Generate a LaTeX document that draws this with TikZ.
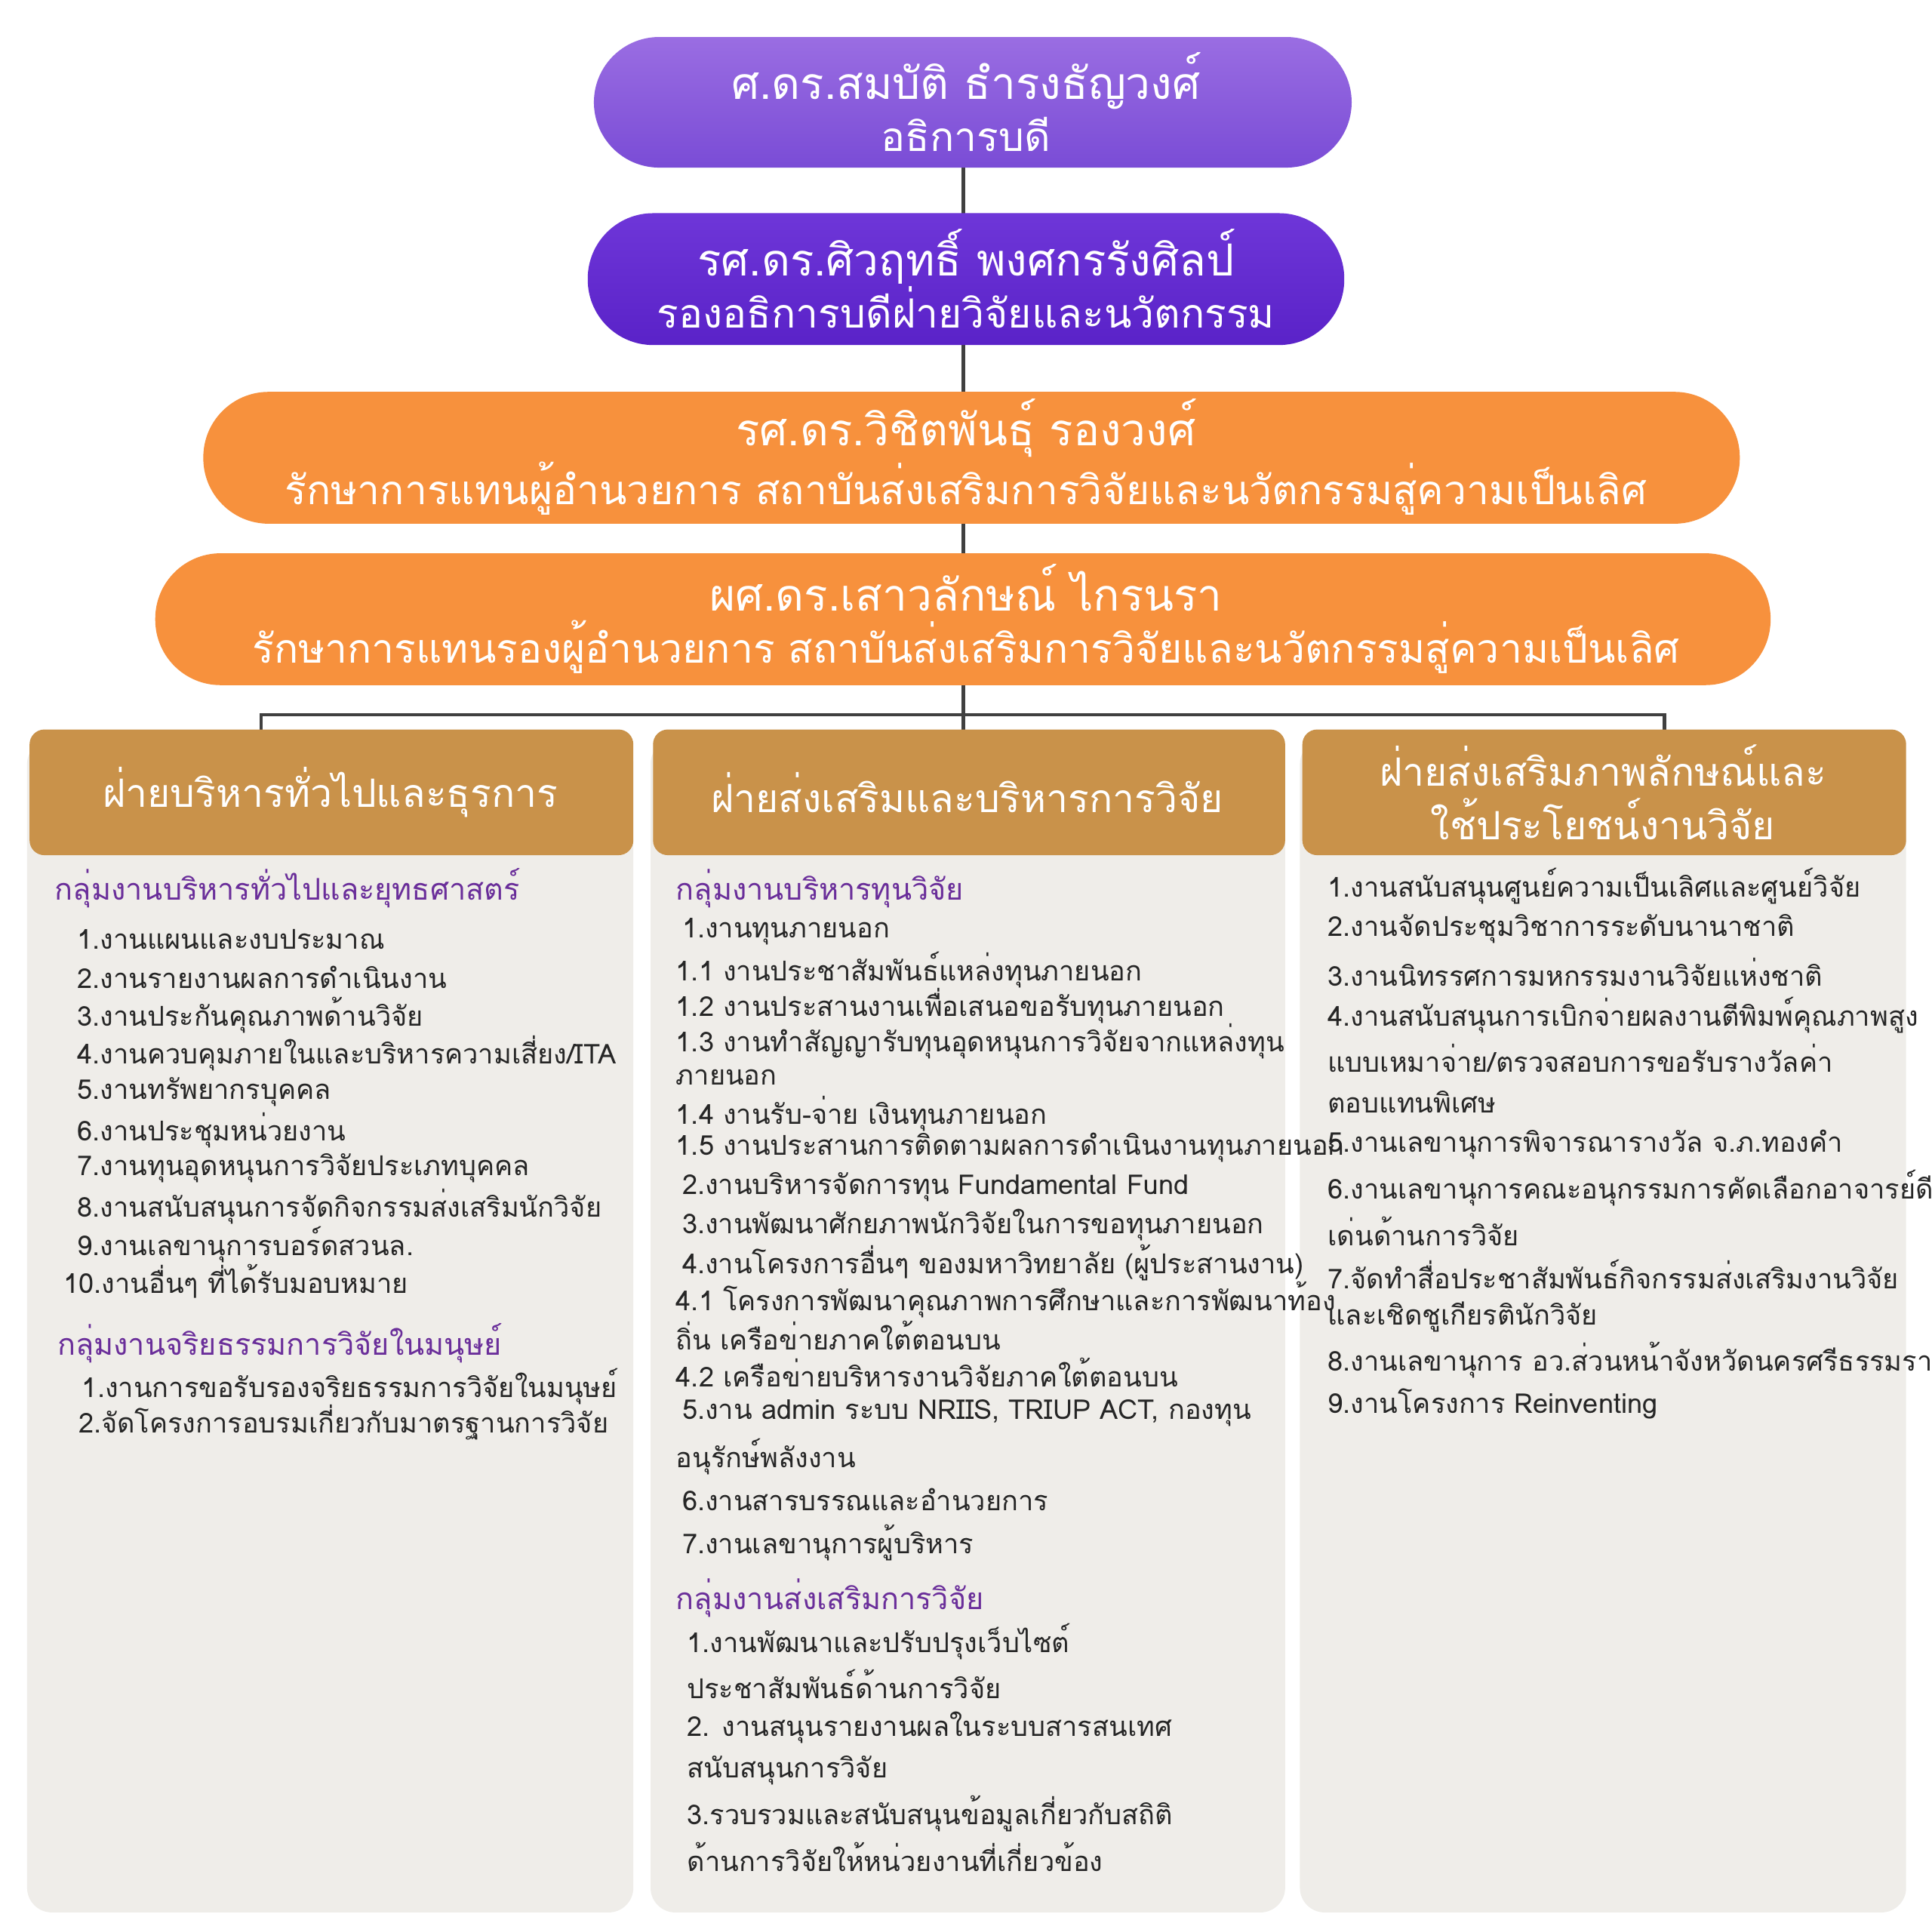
\documentclass[tikz,border=0pt]{standalone}
\usepackage{fontspec}
\IfFontExistsTF{Loma}{\setmainfont{Loma}}{%
 \IfFontExistsTF{Garuda}{\setmainfont{Garuda}}{%
  \IfFontExistsTF{Norasi}{\setmainfont{Norasi}}{\setmainfont{Noto Sans}}}}
\newcommand{\pl}[2]{{\fontsize{10.2}{12.5}\selectfont #1}\\{\fontsize{9.3}{12.5}\selectfont #2}}
\begin{document}
\begin{tikzpicture}[x=0.01cm,y=-0.01cm,
  pill/.style={text=white,align=center,inner sep=0},
  it/.style={anchor=west,inner sep=0,font=\fontsize{6.3}{8}\selectfont,text=black!85},
  gh/.style={anchor=west,inner sep=0,font=\fontsize{6.9}{9}\selectfont,text=grpurple},
  ht/.style={text=white,font=\fontsize{9}{12.5}\selectfont,align=center},
  conn/.style={draw=black!75,line width=0.8pt}]
\definecolor{panelgray}{HTML}{EFEDE9}
\definecolor{tan}{HTML}{C9924A}
\definecolor{grpurple}{HTML}{6A2E9A}
\definecolor{pA}{HTML}{9A6DE2}
\definecolor{pB}{HTML}{7A4CD6}
\definecolor{pC}{HTML}{6E36D8}
\definecolor{pD}{HTML}{5A22C8}
\definecolor{org}{HTML}{F7913D}
\useasboundingbox (0,0) rectangle (1568,1553);
\fill[white] (0,0) rectangle (1568,1553);
% connectors
\coordinate (c1) at (782,580); \coordinate (cl) at (212,580); \coordinate (cr) at (1351,580);
\draw[conn] (782,136) -- (782,592);
\draw[conn] (212,592) -- (cl) -- (cr) -- (1351,592);
% pills
\shade[top color=pA,bottom color=pB,rounded corners=0.53cm] (482,30) rectangle (1097,136);
\node[pill] (n1) at (784,83) {\pl{ศ.ดร.สมบัติ ธำรงธัญวงศ์}{อธิการบดี}};
\shade[top color=pC,bottom color=pD,rounded corners=0.53cm] (477,173) rectangle (1091,280);
\node[pill] (n2) at (784,226) {\pl{รศ.ดร.ศิวฤทธิ์ พงศกรรังศิลป์}{รองอธิการบดีฝ่ายวิจัยและนวัตกรรม}};
\fill[org,rounded corners=0.53cm] (165,318) rectangle (1412,425);
\node[pill] (n3) at (784,371) {\pl{รศ.ดร.วิชิตพันธุ์ รองวงศ์}{รักษาการแทนผู้อำนวยการ สถาบันส่งเสริมการวิจัยและนวัตกรรมสู่ความเป็นเลิศ}};
\fill[org,rounded corners=0.53cm] (126,449) rectangle (1437,556);
\node[pill] (n4) at (784,502) {\pl{ผศ.ดร.เสาวลักษณ์ ไกรนรา}{รักษาการแทนรองผู้อำนวยการ สถาบันส่งเสริมการวิจัยและนวัตกรรมสู่ความเป็นเลิศ}};
% panels
\foreach \a/\b in {22/514,528/1043,1055/1547}{
  \fill[panelgray,rounded corners=0.2cm] (\a,600) rectangle (\b,1552);
  \fill[tan,rounded corners=0.12cm] (\a+2,592) rectangle (\b,694);}
\node[ht] (h1) at (268,643) {ฝ่ายบริหารทั่วไปและธุรการ};
\node[ht] (h2) at (785,643) {ฝ่ายส่งเสริมและบริหารการวิจัย};
\node[ht] (h3) at (1301,643) {ฝ่ายส่งเสริมภาพลักษณ์และ\\ใช้ประโยชน์งานวิจัย};
% column 1
\node[gh] at (44,721) {กลุ่มงานบริหารทั่วไปและยุทธศาสตร์};
\foreach \y/\t in {762/1.งานแผนและงบประมาณ,793/2.งานรายงานผลการดำเนินงาน,824/3.งานประกันคุณภาพด้านวิจัย,855/{4.งานควบคุมภายในและบริหารความเสี่ยง/ITA},886/5.งานทรัพยากรบุคคล,917/6.งานประชุมหน่วยงาน,948/7.งานทุนอุดหนุนการวิจัยประเภทบุคคล,979/8.งานสนับสนุนการจัดกิจกรรมส่งเสริมนักวิจัย,1010/9.งานเลขานุการบอร์ดสวนล.}
  \node[it] at (62,\y) {\t};
\node[it] at (51,1040) {10.งานอื่นๆ ที่ได้รับมอบหมาย};
\node[gh] at (46,1090) {กลุ่มงานจริยธรรมการวิจัยในมนุษย์};
\node[it] at (66,1125) {1.งานการขอรับรองจริยธรรมการวิจัยในมนุษย์};
\node[it] at (63,1154) {2.จัดโครงการอบรมเกี่ยวกับมาตรฐานการวิจัย};
% column 2
\node[gh] at (548,721) {กลุ่มงานบริหารทุนวิจัย};
\foreach \x/\y/\t in {553/756/1.งานทุนภายนอก,
 548/787/1.1 งานประชาสัมพันธ์แหล่งทุนภายนอก,
 548/816/1.2 งานประสานงานเพื่อเสนอขอรับทุนภายนอก,
 548/845/1.3 งานทำสัญญารับทุนอุดหนุนการวิจัยจากแหล่งทุน,
 548/874/ภายนอก,
 548/904/1.4 งานรับ-จ่าย เงินทุนภายนอก,
 548/931/1.5 งานประสานการติดตามผลการดำเนินงานทุนภายนอก,
 553/963/2.งานบริหารจัดการทุน Fundamental Fund,
 553/994/3.งานพัฒนาศักยภาพนักวิจัยในการขอทุนภายนอก,
 553/1025/4.งานโครงการอื่นๆ ของมหาวิทยาลัย (ผู้ประสานงาน),
 548/1055/4.1 โครงการพัฒนาคุณภาพการศึกษาและการพัฒนาท้อง,
 548/1084/ถิ่น เครือข่ายภาคใต้ตอนบน,
 548/1114/4.2 เครือข่ายบริหารงานวิจัยภาคใต้ตอนบน,
 548/1182/อนุรักษ์พลังงาน,
 553/1217/6.งานสารบรรณและอำนวยการ,
 553/1252/7.งานเลขานุการผู้บริหาร}
  \node[it] at (\x,\y) {\t};
\node[it] at (553,1147) {5.งาน admin ระบบ NRIIS, TRIUP ACT, กองทุน};
\node[gh] at (548,1297) {กลุ่มงานส่งเสริมการวิจัย};
\foreach \y/\t in {1332/1.งานพัฒนาและปรับปรุงเว็บไซต์,1367/ประชาสัมพันธ์ด้านการวิจัย,1402/2. งานสนุนรายงานผลในระบบสารสนเทศ,1437/สนับสนุนการวิจัย,1472/3.รวบรวมและสนับสนุนข้อมูลเกี่ยวกับสถิติ,1507/ด้านการวิจัยให้หน่วยงานที่เกี่ยวข้อง}
  \node[it] at (557,\y) {\t};
% column 3
\foreach \y/\t in {719/1.งานสนับสนุนศูนย์ความเป็นเลิศและศูนย์วิจัย,754/2.งานจัดประชุมวิชาการระดับนานาชาติ,789/3.งานนิทรรศการมหกรรมงานวิจัยแห่งชาติ,824/4.งานสนับสนุนการเบิกจ่ายผลงานตีพิมพ์คุณภาพสูง,859/{แบบเหมาจ่าย/ตรวจสอบการขอรับรางวัลค่า},894/ตอบแทนพิเศษ,929/5.งานเลขานุการพิจารณารางวัล จ.ภ.ทองคำ,964/6.งานเลขานุการคณะอนุกรรมการคัดเลือกอาจารย์ดี,999/เด่นด้านการวิจัย,1034/7.จัดทำสื่อประชาสัมพันธ์กิจกรรมส่งเสริมงานวิจัย,1069/และเชิดชูเกียรตินักวิจัย,1104/8.งานเลขานุการ อว.ส่วนหน้าจังหวัดนครศรีธรรมราช,1139/9.งานโครงการ Reinventing}
  \node[it] at (1077,\y) {\t};
\end{tikzpicture}
\end{document}
